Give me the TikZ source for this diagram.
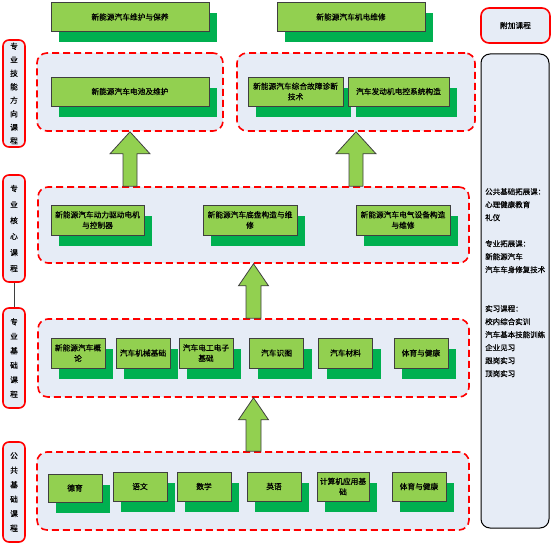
\documentclass[tikz,border=0pt]{standalone}
\usepackage{fontspec}
\setmainfont{Noto Sans CJK SC}[FakeBold=0.6]
\usepackage{tikz}
\usetikzlibrary{calc,shadows}
\definecolor{kursgruen}{HTML}{92D050}
\definecolor{schattengruen}{HTML}{00B050}
\definecolor{gruppenblau}{HTML}{E6ECF6}
\definecolor{rahmenrot}{HTML}{FF0000}
\definecolor{rahmengrau}{HTML}{3F3F3F}
\tikzset{
  kurs/.style={draw=rahmengrau, line width=0.8pt, fill=kursgruen, align=center, inner sep=1pt,
    minimum height=29pt, font=\fontsize{7.7}{10.5}\selectfont,
    drop shadow={fill=schattengruen, opacity=1, shadow xshift=8pt, shadow yshift=-11pt}},
  gruppe/.style={draw=rahmenrot, line width=1.6pt, dash pattern=on 7pt off 4pt, fill=gruppenblau,
    rounded corners=10pt},
  etikett/.style={draw=rahmenrot, line width=1.6pt, fill=gruppenblau, rounded corners=6pt,
    minimum width=22pt, inner sep=0pt, align=center, font=\fontsize{7.7}{#1}\selectfont},
  etikett/.default=13.5,
  pfeil/.style={draw=rahmengrau, line width=0.8pt, fill=kursgruen}
}
\begin{document}
\begin{tikzpicture}[x=1pt, y=-1pt]
\useasboundingbox (0,0) rectangle (554,545);
\pgfmathsetmacro{\breite}{54}
\pgfmathsetmacro{\schaft}{7}
\pgfmathsetmacro{\kopf}{22}

\node[kurs, minimum width=158pt] (wartung) at (130,17) {新能源汽车维护与保养};
\node[kurs, minimum width=148pt] (mechatronik) at (351,17) {新能源汽车机电维修};

\node[gruppe, minimum width=186pt, minimum height=78pt] (richtA) at (130,92) {};
\node[gruppe, minimum width=238pt, minimum height=78pt] (richtB) at (356,92) {};
\node[gruppe, minimum width=431pt, minimum height=76pt] (kern) at (253.5,225) {};
\node[gruppe, minimum width=431pt, minimum height=78pt] (basis) at (253.5,358) {};
\node[gruppe, minimum width=432pt, minimum height=78pt] (allgemein) at (253,491) {};

\node[kurs, minimum width=158pt] (batterie) at (130,91.5) {新能源汽车电池及维护};
\node[kurs, minimum width=95pt] (diagnose) at (295.5,91.5) {新能源汽车综合故障诊断\\技术};
\node[kurs, minimum width=101pt] (motorsteuerung) at (398.5,91.5) {汽车发动机电控系统构造};

\node[kurs, minimum width=93pt, minimum height=30pt] (antrieb) at (97.5,220) {新能源汽车动力驱动电机\\与控制器};
\node[kurs, minimum width=94pt, minimum height=30pt] (fahrwerk) at (250,220) {新能源汽车底盘构造与维\\修};
\node[kurs, minimum width=94pt, minimum height=30pt] (elektrik) at (403,220) {新能源汽车电气设备构造\\与维修};

\node[kurs, minimum width=\breite pt, minimum height=30pt] (einfuehrung) at (78,353) {新能源汽车概\\论};
\node[kurs, minimum width=\breite pt, minimum height=30pt] (mechanik) at (143,353) {汽车机械基础};
\node[kurs, minimum width=\breite pt, minimum height=30pt] (elektronik) at (206,353) {汽车电工电子\\基础};
\node[kurs, minimum width=\breite pt, minimum height=30pt] (zeichnung) at (276.5,353) {汽车识图};
\node[kurs, minimum width=\breite pt, minimum height=30pt] (werkstoff) at (345.5,353) {汽车材料};
\node[kurs, minimum width=\breite pt, minimum height=30pt] (sportA) at (421,353) {体育与健康};

\node[kurs, minimum width=\breite pt, minimum height=28pt] (moral) at (75,488) {德育};
\node[kurs, minimum width=\breite pt] (chinesisch) at (140,486.5) {语文};
\node[kurs, minimum width=\breite pt] (mathe) at (204,486.5) {数学};
\node[kurs, minimum width=\breite pt] (englisch) at (274,486.5) {英语};
\node[kurs, minimum width=52pt] (computer) at (343,486.5) {计算机应用基\\础};
\node[kurs, minimum width=\breite pt] (sportB) at (419,486.5) {体育与健康};

\draw[pfeil] ($(richtA.south |- kern.north)+(-\schaft,0)$) |- ($(richtA.south)+(-20,\kopf)$) -- (richtA.south)
  -- ($(richtA.south)+(20,\kopf)$) -| ($(richtA.south |- kern.north)+(\schaft,0)$) -- cycle;
\draw[pfeil] ($(richtB.south |- kern.north)+(-\schaft,0)$) |- ($(richtB.south)+(-20,\kopf)$) -- (richtB.south)
  -- ($(richtB.south)+(20,\kopf)$) -| ($(richtB.south |- kern.north)+(\schaft,0)$) -- cycle;
\draw[pfeil] ($(kern.south |- basis.north)+(-7.5,0)$) |- ($(kern.south)+(-15,\kopf)$) -- (kern.south)
  -- ($(kern.south)+(15,\kopf)$) -| ($(kern.south |- basis.north)+(7.5,0)$) -- cycle;
\draw[pfeil] ($(basis.south |- allgemein.north)+(-7.5,0)$) |- ($(basis.south)+(-15,\kopf)$) -- (basis.south)
  -- ($(basis.south)+(15,\kopf)$) -| ($(basis.south |- allgemein.north)+(7.5,0)$) -- cycle;

\node[etikett, minimum height=107pt] (stufeA) at (14,93.5) {专\\业\\技\\能\\方\\向\\课\\程};
\node[etikett=16, minimum height=107pt] (stufeB) at (14,228.5) {专\\业\\核\\心\\课\\程};
\node[etikett=14.5, minimum height=100pt] (stufeC) at (14,358) {专\\业\\基\\础\\课\\程};
\node[etikett=14.5, minimum height=100pt] (stufeD) at (14,492) {公\\共\\基\\础\\课\\程};
\draw[rahmengrau, line width=0.6pt] (stufeB.south) -- (stufeC.north);

\node[draw=rahmenrot, line width=1.6pt, fill=gruppenblau, rounded corners=8pt, minimum width=69pt,
  minimum height=35pt, font=\fontsize{7.7}{10}\selectfont] (zusatz) at (515.5,25.5) {附加课程};
\node[draw=black, line width=1pt, fill=gruppenblau, rounded corners=9pt, minimum width=68pt,
  minimum height=474pt] (liste) at (515,291) {};
\node[anchor=north west, align=left, inner sep=0pt, font=\fontsize{7.5}{13}\selectfont] (listentext) at (485,188)
  {公共基础拓展课：\\心理健康教育\\礼仪\\[13pt]专业拓展课：\\新能源汽车\\汽车车身修复技术\\[26pt]
   实习课程：\\校内综合实训\\汽车基本技能训练\\企业见习\\跟岗实习\\顶岗实习};
\end{tikzpicture}
\end{document}
